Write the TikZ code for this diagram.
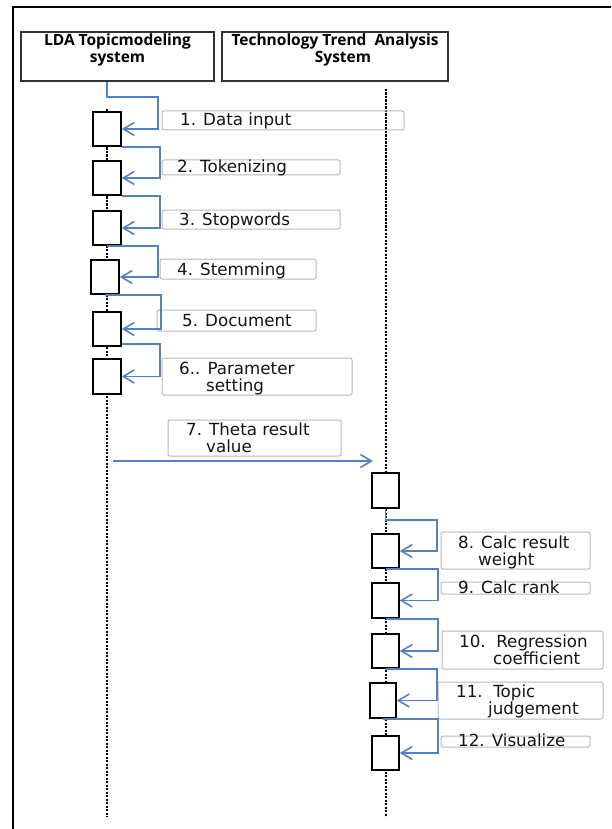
\documentclass[tikz,border=0pt]{standalone}
\usepackage{fontspec}
\setmainfont{DejaVu Sans}
\newfontfamily\hdrfont{Open Sans}
\usetikzlibrary{arrows.meta}
\definecolor{conncol}{RGB}{84,130,190}
\definecolor{boxgray}{RGB}{185,185,185}
\tikzset{
  lifeline/.style={line width=1.6pt, dash pattern=on 2.4pt off 1.1pt},
  actbox/.style={draw, line width=1.5pt, fill=white, minimum width=28pt, minimum height=34pt, inner sep=0pt},
  conn/.style={draw=conncol, line width=1.6pt, -{Straight Barb[length=11pt,width=13pt,line width=1.6pt]}},
  lblbox/.style={draw=boxgray, line width=1pt, rounded corners=2pt},
  lbl/.style={anchor=base west, inner sep=0pt, text=black!92, font=\fontsize{16.7}{20}\selectfont},
  hdrtext/.style={anchor=base, inner sep=0pt, font=\hdrfont\bfseries\fontsize{15.5}{18}\selectfont},
  hdrbox/.style={draw=black!80, line width=1.5pt, inner sep=0pt}
}
\begin{document}
\begin{tikzpicture}[x=1pt,y=-1pt]
\useasboundingbox (0,0) rectangle (611,829);
% outer frame
\draw[line width=2pt] (13,829) -- (13,7) -- (611,7);
% headers
\node[hdrbox, minimum width=193pt, minimum height=49pt] (lda) at (117.5,56.5) {};
\node[hdrbox, minimum width=226pt, minimum height=49pt] (tta) at (335,56.5) {};
\node[hdrtext] (ldat1) at (117.5,45.5) {LDA Topicmodeling};
\node[hdrtext] (ldat2) at (117.5,62.5) {system};
\node[hdrtext] (ttat1) at (335,45.5) {Technology Trend\ \ Analysis};
\node[hdrtext] (ttat2) at (343,62.5) {System};
% lifelines
\coordinate (ltop) at (107,109);
\coordinate (lbot) at (107,817);
\coordinate (rtop) at (386,89);
\coordinate (rbot) at (386,817);
\draw[lifeline] (ltop) -- (lbot);
\draw[lifeline] (rtop) -- (rbot);
% label boxes
\draw[lblbox] (162,111) rectangle (404,130);
\draw[lblbox] (162,160) rectangle (340,175);
\draw[lblbox] (162,210) rectangle (340,229);
\draw[lblbox] (160,259) rectangle (316,279);
\draw[lblbox] (157,310) rectangle (316,331);
\draw[lblbox] (162,358) rectangle (352,395);
\draw[lblbox] (168,420) rectangle (341,456);
\draw[lblbox] (441,532) rectangle (590,569);
\draw[lblbox] (441,582) rectangle (590,594);
\draw[lblbox] (442,631) rectangle (603,669);
\draw[lblbox] (438,682) rectangle (603,719);
\draw[lblbox] (441,736) rectangle (590,747);
% label texts
\node[lbl] (t1) at (180,126) {1. Data input};
\node[lbl] (t2) at (177,173) {2. Tokenizing};
\node[lbl] (t3) at (179,225) {3. Stopwords};
\node[lbl] (t4) at (177,275) {4. Stemming};
\node[lbl] (t5) at (182,326) {5. Document};
\node[lbl] (t6a) at (179,374) {6.. Parameter};
\node[lbl] (t6b) at (206,391) {setting};
\node[lbl] (t7a) at (186,435) {7. Theta result};
\node[lbl] (t7b) at (206,452) {value};
\node[lbl] (t8a) at (458,548) {8. Calc result};
\node[lbl] (t8b) at (478,565) {weight};
\node[lbl] (t9) at (458,593) {9. Calc rank};
\node[lbl] (t10a) at (459,647) {10.\ \ Regression};
\node[lbl] (t10b) at (493,664) {coefficient};
\node[lbl] (t11a) at (456,697) {11.\ \ Topic};
\node[lbl] (t11b) at (488,714) {judgement};
\node[lbl] (t12) at (458,746) {12. Visualize};
% activation boxes
\node[actbox] (a1) at (107,129) {};
\node[actbox] (a2) at (107,178) {};
\node[actbox] (a3) at (107,228) {};
\node[actbox] (a4) at (105,277) {};
\node[actbox] (a5) at (107,329) {};
\node[actbox, minimum height=35pt] (a6) at (107,376.5) {};
\node[actbox, minimum width=27pt, minimum height=35pt] (b0) at (385.5,490.5) {};
\node[actbox, minimum width=27pt] (b1) at (385.5,551) {};
\node[actbox, minimum width=27pt, minimum height=35pt] (b2) at (385.5,600.5) {};
\node[actbox, minimum width=27pt] (b3) at (385.5,651) {};
\node[actbox, minimum width=26pt, minimum height=35pt] (b4) at (383,700.5) {};
\node[actbox, minimum width=27pt] (b5) at (385.5,753) {};
% connectors
\draw[conn] (a1.north |- lda.south) -- ++(0,15) -- ++(51,0) |- (a1.east);
\draw[conn] (a1.south east) -- ++(38,0) |- (a2.east);
\draw[conn] (a2.south east) -- ++(38,0) |- (a3.east);
\draw[conn] (a3.south) -- ++(51,0) |- (a4.east);
\draw[conn] (a4.south) -- ++(56,0) |- (a5.east);
\draw[conn] ([yshift=3pt]a5.south east) -- ++(38,0) |- (a6.east);
\coordinate (m7s) at (113,461);
\coordinate (m7e) at (373,461);
\draw[conn] (m7s) -- (m7e);
\draw[conn] (b0.south) -- ++(0,11) -- ++(51.5,0) |- (b1.east);
\draw[conn] (b1.south) -- ++(52.5,0) |- (b2.east);
\draw[conn] (b2.south) -- ++(52.5,0) |- (b3.east);
\draw[conn] (b3.south) -- ++(51.5,0) |- (b4.east);
\draw[conn] (b4.south) -- ++(55,0) |- (b5.east);
\end{tikzpicture}
\end{document}
